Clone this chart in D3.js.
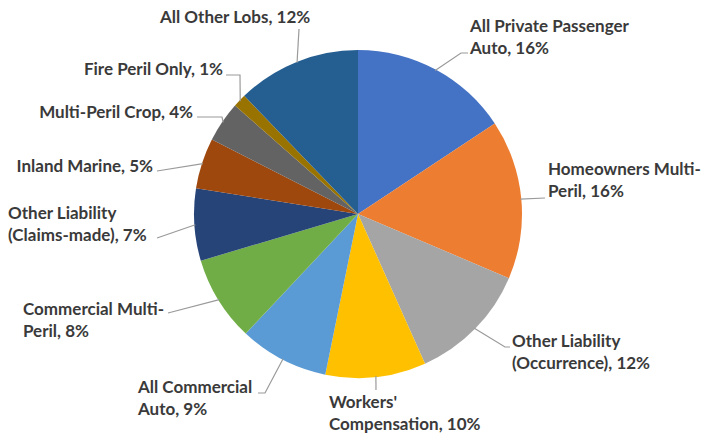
<!DOCTYPE html>
<html>
<head>
<meta charset="utf-8">
<script src="https://cdn.jsdelivr.net/npm/d3@7"></script>
<style>
  html, body { margin: 0; padding: 0; background: #ffffff; }
  svg { display: block; }
</style>
</head>
<body>
<svg id="chart" width="703" height="436"></svg>
<script>
// ---- data (shares in %; labels show rounded values) ----
const categories = [
  "All Private Passenger Auto",
  "Homeowners Multi-Peril",
  "Other Liability (Occurrence)",
  "Workers' Compensation",
  "All Commercial Auto",
  "Commercial Multi-Peril",
  "Other Liability (Claims-made)",
  "Inland Marine",
  "Multi-Peril Crop",
  "Fire Peril Only",
  "All Other Lobs"
];
const values = [15.7, 15.7, 11.9, 9.9, 8.8, 8.4, 7.1, 5.0, 4.0, 1.3, 12.2];
const colors = ["#4472C4", "#ED7D31", "#A5A5A5", "#FFC000", "#5B9BD5", "#70AD47",
                "#264478", "#9E480E", "#636363", "#997300", "#255E91"];

// ---- layout (label placement, like manually positioned data labels) ----
const labelLayout = [
  { breakAt: 21, x: 470, y: 32,  anchor: "start", elbow: [[461, 53], [468, 53]] },
  { breakAt: 17, x: 548, y: 175, anchor: "start", elbow: [[545, 198]] },
  { breakAt: 15, x: 512, y: 347, anchor: "start", elbow: [[505, 347], [510, 347]] },
  { breakAt: 8,  x: 329, y: 408, anchor: "start", elbow: [[376, 390]] },
  { breakAt: 14, x: 138, y: 393, anchor: "start", elbow: [[265, 393], [258, 393]] },
  { breakAt: 17, x: 23,  y: 315, anchor: "start", elbow: [[168, 313]] },
  { breakAt: 15, x: 8,   y: 219, anchor: "start", elbow: [[157, 238]] },
  { breakAt: 0,  x: 153, y: 172, anchor: "end",   elbow: [[157, 171]] },
  { breakAt: 0,  x: 193, y: 118, anchor: "end",   elbow: [[222, 117], [197, 117]] },
  { breakAt: 0,  x: 223, y: 75,  anchor: "end",   elbow: [[240, 75], [226, 75]] },
  { breakAt: 0,  x: 160, y: 23,  anchor: "start", elbow: [[299, 29]] }
];

const cx = 358, cy = 214, radius = 164;
const svg = d3.select("#chart");
const g = svg.append("g").attr("transform", `translate(${cx},${cy})`);

const data = categories.map((c, i) => ({ name: c, value: values[i], color: colors[i], layout: labelLayout[i] }));

const pie = d3.pie().value(d => d.value).sort(null).startAngle(0).endAngle(2 * Math.PI);
const arcs = pie(data);
const arc = d3.arc().innerRadius(0).outerRadius(radius);
const edgeArc = d3.arc().innerRadius(radius - 1).outerRadius(radius - 1);

g.selectAll("path.slice")
  .data(arcs)
  .enter().append("path")
  .attr("class", "slice")
  .attr("d", arc)
  .attr("fill", d => d.data.color);

// leader lines
const line = d3.line();
svg.selectAll("path.leader")
  .data(arcs)
  .enter().append("path")
  .attr("class", "leader")
  .attr("d", d => {
    const c = edgeArc.centroid(d);
    const pts = [[c[0] + cx, c[1] + cy]].concat(d.data.layout.elbow);
    return line(pts);
  })
  .attr("fill", "none")
  .attr("stroke", "#9a9a9a")
  .attr("stroke-width", 1.2);

// labels
const lineHeight = 22;
svg.selectAll("text.lbl")
  .data(arcs)
  .enter().append("text")
  .attr("class", "lbl")
  .attr("x", d => d.data.layout.x)
  .attr("y", d => d.data.layout.y)
  .attr("text-anchor", d => d.data.layout.anchor)
  .attr("font-family", "Lato, 'Open Sans', sans-serif")
  .attr("font-weight", "bold")
  .attr("font-size", 17)
  .attr("fill", "#3a3a3a")
  .each(function (d) {
    const full = `${d.data.name}, ${Math.round(d.data.value)}%`;
    const b = d.data.layout.breakAt;
    const lines = b > 0 ? [full.slice(0, b).trim(), full.slice(b).trim()] : [full];
    const t = d3.select(this);
    lines.forEach((s, i) => {
      t.append("tspan")
        .attr("x", d.data.layout.x)
        .attr("dy", i === 0 ? 0 : lineHeight)
        .text(s);
    });
  });
</script>
</body>
</html>
